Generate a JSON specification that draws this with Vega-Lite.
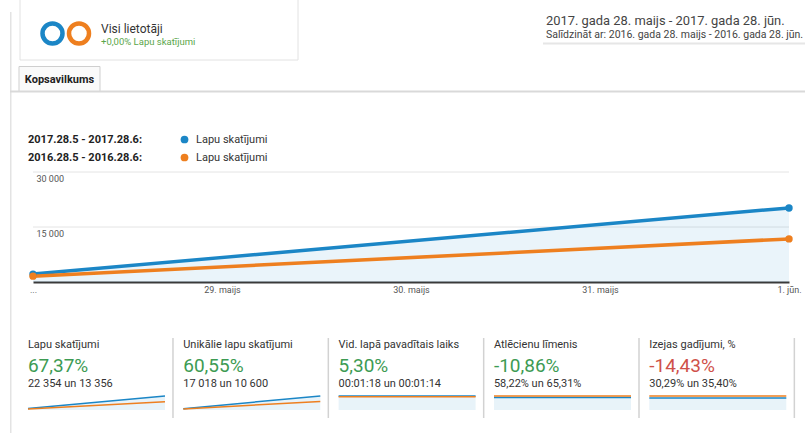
{
  "$schema": "https://vega.github.io/schema/vega-lite/v6.json",
  "width": 805,
  "height": 433,
  "autosize": "none",
  "padding": 0,
  "background": "white",
  "config": {
    "view": {"stroke": null},
    "font": "Roboto",
    "axis": {"labelFont": "Roboto"},
    "legend": {"labelFont": "Roboto", "titleFont": "Roboto"},
    "text": {"font": "Roboto"}
  },
  "datasets": {
    "header": [
      {
        "segment": "Visi lietotāji",
        "summary": "+0,00% Lapu skatījumi",
        "range": "2017. gada 28. maijs - 2017. gada 28. jūn.",
        "compare": "Salīdzināt ar: 2016. gada 28. maijs - 2016. gada 28. jūn.",
        "tab": "Kopsavilkums"
      }
    ],
    "segments": [
      {"segment": "Visi lietotāji", "period": "2017.28.5 - 2017.28.6"},
      {"segment": "Visi lietotāji", "period": "2016.28.5 - 2016.28.6"}
    ],
    "views": [
      {"period": "2017.28.5 - 2017.28.6", "day": "28. maijs", "views": 2150},
      {"period": "2017.28.5 - 2017.28.6", "day": "1. jūn.", "views": 20204},
      {"period": "2016.28.5 - 2016.28.6", "day": "28. maijs", "views": 1600},
      {"period": "2016.28.5 - 2016.28.6", "day": "1. jūn.", "views": 11756}
    ],
    "gridlines": [
      {"views": 15000},
      {"views": 30000}
    ],
    "metrics": [
      {"metric": "Lapu skatījumi", "change": "67,37%", "tone": "good", "totals": "22 354 un 13 356"},
      {"metric": "Unikālie lapu skatījumi", "change": "60,55%", "tone": "good", "totals": "17 018 un 10 600"},
      {"metric": "Vid. lapā pavadītais laiks", "change": "5,30%", "tone": "good", "totals": "00:01:18 un 00:01:14"},
      {"metric": "Atlēcienu līmenis", "change": "-10,86%", "tone": "good", "totals": "58,22% un 65,31%"},
      {"metric": "Izejas gadījumi, %", "change": "-14,43%", "tone": "bad", "totals": "30,29% un 35,40%"}
    ],
    "sparks": [
      {"metric": "Lapu skatījumi", "period": "2017.28.5 - 2017.28.6", "day": 0, "value": 2150},
      {"metric": "Lapu skatījumi", "period": "2017.28.5 - 2017.28.6", "day": 4, "value": 20204},
      {"metric": "Lapu skatījumi", "period": "2016.28.5 - 2016.28.6", "day": 0, "value": 1600},
      {"metric": "Lapu skatījumi", "period": "2016.28.5 - 2016.28.6", "day": 4, "value": 11756},
      {"metric": "Unikālie lapu skatījumi", "period": "2017.28.5 - 2017.28.6", "day": 0, "value": 1500},
      {"metric": "Unikālie lapu skatījumi", "period": "2017.28.5 - 2017.28.6", "day": 4, "value": 15518},
      {"metric": "Unikālie lapu skatījumi", "period": "2016.28.5 - 2016.28.6", "day": 0, "value": 1200},
      {"metric": "Unikālie lapu skatījumi", "period": "2016.28.5 - 2016.28.6", "day": 4, "value": 9400},
      {"metric": "Vid. lapā pavadītais laiks", "period": "2017.28.5 - 2017.28.6", "day": 0, "value": 78},
      {"metric": "Vid. lapā pavadītais laiks", "period": "2017.28.5 - 2017.28.6", "day": 4, "value": 78},
      {"metric": "Vid. lapā pavadītais laiks", "period": "2016.28.5 - 2016.28.6", "day": 0, "value": 74},
      {"metric": "Vid. lapā pavadītais laiks", "period": "2016.28.5 - 2016.28.6", "day": 4, "value": 74},
      {"metric": "Atlēcienu līmenis", "period": "2017.28.5 - 2017.28.6", "day": 0, "value": 58.22},
      {"metric": "Atlēcienu līmenis", "period": "2017.28.5 - 2017.28.6", "day": 4, "value": 58.22},
      {"metric": "Atlēcienu līmenis", "period": "2016.28.5 - 2016.28.6", "day": 0, "value": 65.31},
      {"metric": "Atlēcienu līmenis", "period": "2016.28.5 - 2016.28.6", "day": 4, "value": 65.31},
      {"metric": "Izejas gadījumi, %", "period": "2017.28.5 - 2017.28.6", "day": 0, "value": 30.29},
      {"metric": "Izejas gadījumi, %", "period": "2017.28.5 - 2017.28.6", "day": 4, "value": 30.29},
      {"metric": "Izejas gadījumi, %", "period": "2016.28.5 - 2016.28.6", "day": 0, "value": 35.40},
      {"metric": "Izejas gadījumi, %", "period": "2016.28.5 - 2016.28.6", "day": 4, "value": 35.40}
    ]
  },
  "resolve": {
    "scale": {"x": "independent", "y": "independent", "color": "independent", "fill": "independent"},
    "axis": {"x": "independent", "y": "independent"},
    "legend": {"color": "independent", "fill": "independent"}
  },
  "layer": [
    {
      "data": {"name": "header"},
      "mark": {"type": "rect", "fill": "#e3e3e3"},
      "encoding": {
        "x": {"field": "tab", "type": "nominal", "scale": {"type": "band", "range": [10, 11.5], "paddingInner": 0, "paddingOuter": 0}, "axis": null},
        "y": {"field": "tab", "type": "nominal", "scale": {"type": "band", "range": [12, 433], "paddingInner": 0, "paddingOuter": 0}, "axis": null}
      }
    },
    {
      "data": {"name": "header"},
      "mark": {"type": "rect", "fill": "#fafafa", "stroke": "#cfcfcf", "strokeWidth": 1},
      "encoding": {
        "x": {"field": "tab", "type": "nominal", "scale": {"type": "band", "range": [19, 100], "paddingInner": 0, "paddingOuter": 0}, "axis": null},
        "y": {"field": "tab", "type": "nominal", "scale": {"type": "band", "range": [66.5, 91.5], "paddingInner": 0, "paddingOuter": 0}, "axis": null}
      }
    },
    {
      "data": {"name": "header"},
      "mark": {"type": "rect", "fill": "#d9d9d9"},
      "encoding": {
        "x": {"field": "tab", "type": "nominal", "scale": {"type": "band", "range": [10, 805], "paddingInner": 0, "paddingOuter": 0}, "axis": null},
        "y": {"field": "tab", "type": "nominal", "scale": {"type": "band", "range": [90.5, 92.5], "paddingInner": 0, "paddingOuter": 0}, "axis": null}
      }
    },
    {
      "data": {"name": "header"},
      "mark": {"type": "text", "fontSize": 11, "fontWeight": "bold", "color": "#222222", "baseline": "middle", "align": "center"},
      "encoding": {
        "x": {"field": "tab", "type": "nominal", "scale": {"type": "band", "range": [19, 100], "paddingInner": 0, "paddingOuter": 0}, "axis": null},
        "y": {"field": "tab", "type": "nominal", "scale": {"type": "band", "range": [78.5, 80.5], "paddingInner": 0, "paddingOuter": 0}, "axis": null},
        "text": {"field": "tab"}
      }
    },
    {
      "data": {"name": "header"},
      "mark": {"type": "rect", "fill": "white", "stroke": "#e2e2e2", "strokeWidth": 1},
      "encoding": {
        "x": {"field": "segment", "type": "nominal", "scale": {"type": "band", "range": [20, 298], "paddingInner": 0, "paddingOuter": 0}, "axis": null},
        "y": {"field": "segment", "type": "nominal", "scale": {"type": "band", "range": [-5, 60], "paddingInner": 0, "paddingOuter": 0}, "axis": null}
      }
    },
    {
      "data": {"name": "segments"},
      "mark": {"type": "point", "filled": false, "strokeWidth": 4.5, "size": 400, "opacity": 1},
      "encoding": {
        "x": {"field": "period", "type": "nominal", "sort": null, "scale": {"type": "point", "domain": ["2017.28.5 - 2017.28.6", "2016.28.5 - 2016.28.6"], "range": [52.5, 79], "padding": 0}, "axis": null},
        "y": {"field": "segment", "type": "nominal", "scale": {"type": "band", "range": [32.5, 34.5], "paddingInner": 0, "paddingOuter": 0}, "axis": null},
        "color": {"field": "period", "type": "nominal", "scale": {"domain": ["2017.28.5 - 2017.28.6", "2016.28.5 - 2016.28.6"], "range": ["#1b86c6", "#ee7f1f"]}, "legend": null}
      }
    },
    {
      "data": {"name": "header"},
      "mark": {"type": "text", "fontSize": 12, "color": "#333333", "align": "left", "baseline": "middle"},
      "encoding": {
        "x": {"field": "segment", "type": "nominal", "bandPosition": 0, "scale": {"type": "band", "range": [101, 300], "paddingInner": 0, "paddingOuter": 0}, "axis": null},
        "y": {"field": "segment", "type": "nominal", "scale": {"type": "band", "range": [28, 30], "paddingInner": 0, "paddingOuter": 0}, "axis": null},
        "text": {"field": "segment"}
      }
    },
    {
      "data": {"name": "header"},
      "mark": {"type": "text", "fontSize": 9.5, "color": "#5aa64a", "align": "left", "baseline": "middle"},
      "encoding": {
        "x": {"field": "summary", "type": "nominal", "bandPosition": 0, "scale": {"type": "band", "range": [101, 300], "paddingInner": 0, "paddingOuter": 0}, "axis": null},
        "y": {"field": "summary", "type": "nominal", "scale": {"type": "band", "range": [41, 43], "paddingInner": 0, "paddingOuter": 0}, "axis": null},
        "text": {"field": "summary"}
      }
    },
    {
      "data": {"name": "header"},
      "mark": {"type": "text", "fontSize": 12.9, "color": "#444444", "align": "left", "baseline": "middle"},
      "encoding": {
        "x": {"field": "range", "type": "nominal", "bandPosition": 0, "scale": {"type": "band", "range": [546, 805], "paddingInner": 0, "paddingOuter": 0}, "axis": null},
        "y": {"field": "range", "type": "nominal", "scale": {"type": "band", "range": [20, 22], "paddingInner": 0, "paddingOuter": 0}, "axis": null},
        "text": {"field": "range"}
      }
    },
    {
      "data": {"name": "header"},
      "mark": {"type": "text", "fontSize": 10.5, "color": "#444444", "align": "left", "baseline": "middle"},
      "encoding": {
        "x": {"field": "compare", "type": "nominal", "bandPosition": 0, "scale": {"type": "band", "range": [546, 805], "paddingInner": 0, "paddingOuter": 0}, "axis": null},
        "y": {"field": "compare", "type": "nominal", "scale": {"type": "band", "range": [33.5, 35.5], "paddingInner": 0, "paddingOuter": 0}, "axis": null},
        "text": {"field": "compare"}
      }
    },
    {
      "data": {"name": "header"},
      "mark": {"type": "rect", "fill": "#e6e6e6"},
      "encoding": {
        "x": {"field": "range", "type": "nominal", "scale": {"type": "band", "range": [543, 805], "paddingInner": 0, "paddingOuter": 0}, "axis": null},
        "y": {"field": "range", "type": "nominal", "scale": {"type": "band", "range": [42.5, 44.5], "paddingInner": 0, "paddingOuter": 0}, "axis": null}
      }
    },
    {
      "encoding": {
        "x": {
          "field": "day",
          "type": "ordinal",
          "scale": {"type": "point", "domain": ["28. maijs", "29. maijs", "30. maijs", "31. maijs", "1. jūn."], "range": [33, 789], "padding": 0},
          "axis": {
            "orient": "bottom",
            "offset": -151,
            "title": null,
            "labelAngle": 0,
            "labelExpr": "datum.value === '28. maijs' ? '...' : datum.value",
            "ticks": false,
            "grid": false,
            "domainColor": "#3a3a3a",
            "domainWidth": 2,
            "labelColor": "#555555",
            "labelFontSize": 9,
            "labelPadding": 3
          }
        },
        "y": {
          "field": "views",
          "type": "quantitative",
          "scale": {"domain": [0, 30000], "nice": false, "range": [282, 172]},
          "axis": {
            "orient": "left",
            "offset": -33,
            "title": null,
            "values": [15000, 30000],
            "grid": false,
            "domain": false,
            "ticks": false,
            "labelAlign": "left",
            "labelBaseline": "top",
            "labelPadding": -3,
            "labelOffset": 2,
            "labelColor": "#555555",
            "labelFontSize": 9,
            "labelExpr": "replace(format(datum.value, ','), ',', ' ')"
          }
        }
      },
      "layer": [
        {
          "data": {"name": "gridlines"},
          "mark": {"type": "rule", "color": "#e4e4e4", "strokeWidth": 1},
          "encoding": {
            "x": {"datum": "28. maijs"},
            "x2": {"datum": "1. jūn."}
          }
        },
        {
          "data": {"name": "views"},
          "transform": [{"filter": "datum.period === '2017.28.5 - 2017.28.6'"}],
          "mark": {"type": "area", "color": "#1b86c6", "opacity": 0.09}
        },
        {
          "data": {"name": "views"},
          "mark": {"type": "line", "strokeWidth": 3.5},
          "encoding": {
            "color": {
              "field": "period",
              "type": "nominal",
              "scale": {"domain": ["2017.28.5 - 2017.28.6", "2016.28.5 - 2016.28.6"], "range": ["#1b86c6", "#ee7f1f"]},
              "legend": {
                "orient": "none",
                "legendX": 28,
                "legendY": 134,
                "direction": "vertical",
                "title": ["2017.28.5 - 2017.28.6:", "2016.28.5 - 2016.28.6:"],
                "titleOrient": "left",
                "titleAnchor": "start",
                "titleBaseline": "top",
                "titleFontSize": 11,
                "titleFontWeight": "bold",
                "titleColor": "#222222",
                "titleLineHeight": 18,
                "titlePadding": 36,
                "labelExpr": "'Lapu skatījumi'",
                "labelFontSize": 11,
                "labelColor": "#333333",
                "labelOffset": 6,
                "symbolType": "circle",
                "symbolSize": 60,
                "symbolStrokeWidth": 0,
                "rowPadding": 6,
                "encode": {"symbols": {"update": {"fill": {"scale": "color", "field": "value"}, "strokeWidth": {"value": 0}}}}
              }
            }
          }
        },
        {
          "data": {"name": "views"},
          "mark": {"type": "point", "filled": true, "size": 55, "opacity": 1},
          "encoding": {
            "color": {
              "field": "period",
              "type": "nominal",
              "scale": {"domain": ["2017.28.5 - 2017.28.6", "2016.28.5 - 2016.28.6"], "range": ["#1b86c6", "#ee7f1f"]}
            }
          }
        }
      ]
    },
    {
      "data": {"name": "metrics"},
      "mark": {"type": "rule", "color": "#d2d2d2", "strokeWidth": 1.5},
      "encoding": {
        "x": {"field": "metric", "type": "nominal", "sort": null, "bandPosition": 0.934, "scale": {"type": "band", "range": [27.9, 804.6], "paddingInner": 0, "paddingOuter": 0}, "axis": null},
        "y": {"datum": 0, "type": "quantitative", "scale": {"domain": [0, 1], "range": [418, 338]}, "axis": null},
        "y2": {"datum": 1}
      }
    },
    {
      "data": {"name": "metrics"},
      "encoding": {
        "x": {"field": "metric", "type": "nominal", "sort": null, "bandPosition": 0, "scale": {"type": "band", "range": [27.9, 804.6], "paddingInner": 0, "paddingOuter": 0}, "axis": null}
      },
      "layer": [
        {
          "mark": {"type": "text", "align": "left", "baseline": "middle", "fontSize": 11, "color": "#333333"},
          "encoding": {
            "y": {"datum": "name", "type": "ordinal", "scale": {"type": "point", "domain": ["name", "change", "totals"], "range": [345, 384], "padding": 0}, "axis": null},
            "text": {"field": "metric"}
          }
        },
        {
          "mark": {"type": "text", "align": "left", "baseline": "middle", "fontSize": 19, "dy": 1.5},
          "encoding": {
            "y": {"datum": "change", "type": "ordinal", "scale": {"type": "point", "domain": ["name", "change", "totals"], "range": [345, 384], "padding": 0}, "axis": null},
            "text": {"field": "change"},
            "fill": {"field": "tone", "type": "nominal", "scale": {"domain": ["good", "bad"], "range": ["#3d9b53", "#cf5149"]}, "legend": null}
          }
        },
        {
          "mark": {"type": "text", "align": "left", "baseline": "middle", "fontSize": 11, "color": "#333333"},
          "encoding": {
            "y": {"datum": "totals", "type": "ordinal", "scale": {"type": "point", "domain": ["name", "change", "totals"], "range": [345, 384], "padding": 0}, "axis": null},
            "text": {"field": "totals"}
          }
        }
      ]
    },
    {
      "data": {"name": "sparks"},
      "transform": [{"filter": "datum.metric === 'Lapu skatījumi'"}],
      "encoding": {
        "x": {"field": "day", "type": "quantitative", "scale": {"domain": [0, 4], "range": [28, 165], "nice": false, "zero": false}, "axis": null},
        "y": {"field": "value", "type": "quantitative", "scale": {"zero": true, "nice": false, "range": [410, 396]}, "axis": null}
      },
      "layer": [
        {"transform": [{"filter": "datum.period === '2017.28.5 - 2017.28.6'"}], "mark": {"type": "area", "color": "#1b86c6", "opacity": 0.1}},
        {"mark": {"type": "line", "strokeWidth": 1.5}, "encoding": {"color": {"field": "period", "type": "nominal", "scale": {"domain": ["2017.28.5 - 2017.28.6", "2016.28.5 - 2016.28.6"], "range": ["#1b86c6", "#ee7f1f"]}, "legend": null}}}
      ]
    },
    {
      "data": {"name": "sparks"},
      "transform": [{"filter": "datum.metric === 'Unikālie lapu skatījumi'"}],
      "encoding": {
        "x": {"field": "day", "type": "quantitative", "scale": {"domain": [0, 4], "range": [183.3, 320.3], "nice": false, "zero": false}, "axis": null},
        "y": {"field": "value", "type": "quantitative", "scale": {"zero": true, "nice": false, "range": [410, 396]}, "axis": null}
      },
      "layer": [
        {"transform": [{"filter": "datum.period === '2017.28.5 - 2017.28.6'"}], "mark": {"type": "area", "color": "#1b86c6", "opacity": 0.1}},
        {"mark": {"type": "line", "strokeWidth": 1.5}, "encoding": {"color": {"field": "period", "type": "nominal", "scale": {"domain": ["2017.28.5 - 2017.28.6", "2016.28.5 - 2016.28.6"], "range": ["#1b86c6", "#ee7f1f"]}, "legend": null}}}
      ]
    },
    {
      "data": {"name": "sparks"},
      "transform": [{"filter": "datum.metric === 'Vid. lapā pavadītais laiks'"}],
      "encoding": {
        "x": {"field": "day", "type": "quantitative", "scale": {"domain": [0, 4], "range": [338.6, 475.6], "nice": false, "zero": false}, "axis": null},
        "y": {"field": "value", "type": "quantitative", "scale": {"zero": true, "nice": false, "range": [410, 396]}, "axis": null}
      },
      "layer": [
        {"transform": [{"filter": "datum.period === '2017.28.5 - 2017.28.6'"}], "mark": {"type": "area", "color": "#1b86c6", "opacity": 0.1}},
        {"mark": {"type": "line", "strokeWidth": 1.5}, "encoding": {"color": {"field": "period", "type": "nominal", "scale": {"domain": ["2017.28.5 - 2017.28.6", "2016.28.5 - 2016.28.6"], "range": ["#1b86c6", "#ee7f1f"]}, "legend": null}}}
      ]
    },
    {
      "data": {"name": "sparks"},
      "transform": [{"filter": "datum.metric === 'Atlēcienu līmenis'"}],
      "encoding": {
        "x": {"field": "day", "type": "quantitative", "scale": {"domain": [0, 4], "range": [494, 631], "nice": false, "zero": false}, "axis": null},
        "y": {"field": "value", "type": "quantitative", "scale": {"zero": true, "nice": false, "range": [410, 396]}, "axis": null}
      },
      "layer": [
        {"transform": [{"filter": "datum.period === '2017.28.5 - 2017.28.6'"}], "mark": {"type": "area", "color": "#1b86c6", "opacity": 0.1}},
        {"mark": {"type": "line", "strokeWidth": 1.5}, "encoding": {"color": {"field": "period", "type": "nominal", "scale": {"domain": ["2017.28.5 - 2017.28.6", "2016.28.5 - 2016.28.6"], "range": ["#1b86c6", "#ee7f1f"]}, "legend": null}}}
      ]
    },
    {
      "data": {"name": "sparks"},
      "transform": [{"filter": "datum.metric === 'Izejas gadījumi, %'"}],
      "encoding": {
        "x": {"field": "day", "type": "quantitative", "scale": {"domain": [0, 4], "range": [649.3, 786.3], "nice": false, "zero": false}, "axis": null},
        "y": {"field": "value", "type": "quantitative", "scale": {"zero": true, "nice": false, "range": [410, 396]}, "axis": null}
      },
      "layer": [
        {"transform": [{"filter": "datum.period === '2017.28.5 - 2017.28.6'"}], "mark": {"type": "area", "color": "#1b86c6", "opacity": 0.1}},
        {"mark": {"type": "line", "strokeWidth": 1.5}, "encoding": {"color": {"field": "period", "type": "nominal", "scale": {"domain": ["2017.28.5 - 2017.28.6", "2016.28.5 - 2016.28.6"], "range": ["#1b86c6", "#ee7f1f"]}, "legend": null}}}
      ]
    }
  ]
}
